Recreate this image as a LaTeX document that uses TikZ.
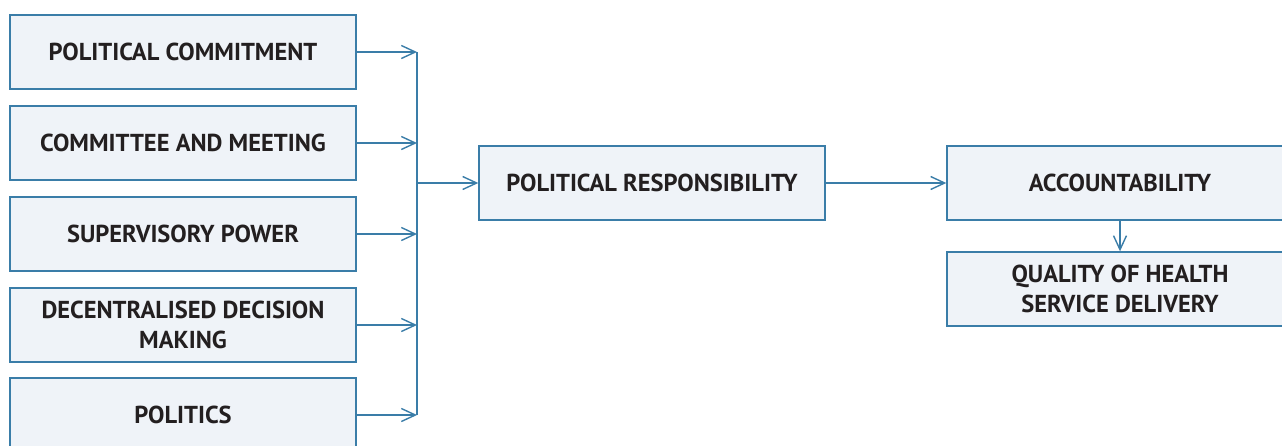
\documentclass[tikz,border=0pt]{standalone}
\usepackage{fontspec}
\setmainfont{PT Sans}
\usetikzlibrary{arrows.meta}
\definecolor{bord}{HTML}{3A7DA8}
\definecolor{boxfill}{HTML}{EFF3F8}
\definecolor{txt}{HTML}{231F20}
\begin{document}
\begin{tikzpicture}[x=1pt,y=-1pt,
  box/.style={draw=bord, fill=boxfill, line width=1.4pt, minimum width=346pt, minimum height=74pt,
    inner sep=0pt, align=center, font=\fontsize{24.5}{30}\selectfont\bfseries, text=txt},
  conn/.style={draw=bord, line width=1.4pt},
  arr/.style={conn, -{Straight Barb[length=14pt,width=13pt,line width=1.4pt]}}]
\useasboundingbox (0,0) rectangle (1282,445);
\clip (0,0) rectangle (1282,445);
\node[box] (b1) at (183,52) {POLITICAL COMMITMENT};
\node[box] (b2) at (183,143) {COMMITTEE AND MEETING};
\node[box] (b3) at (183,234) {SUPERVISORY POWER};
\node[box] (b4) at (183,325) {DECENTRALISED DECISION\\MAKING};
\node[box] (b5) at (183,415) {POLITICS};
\node[box] (pr) at (652,183) {POLITICAL RESPONSIBILITY};
\node[box] (acc) at (1120,183) {ACCOUNTABILITY};
\node[box] (q) at (1120,289) {QUALITY OF HEALTH\\SERVICE DELIVERY};
\coordinate (t1) at (417,52);
\coordinate (t2) at (417,143);
\coordinate (t3) at (417,234);
\coordinate (t4) at (417,325);
\coordinate (t5) at (417,415);
\coordinate (j) at (417,183);
\draw[arr] (b1.east) -- (t1);
\draw[arr] (b2.east) -- (t2);
\draw[arr] (b3.east) -- (t3);
\draw[arr] (b4.east) -- (t4);
\draw[arr] (b5.east) -- (t5);
\draw[conn] (t1) -- (t5);
\draw[arr] (j) -- (pr.west);
\draw[arr] (pr.east) -- (acc.west);
\draw[arr] (acc.south) -- (q.north);
\end{tikzpicture}
\end{document}
